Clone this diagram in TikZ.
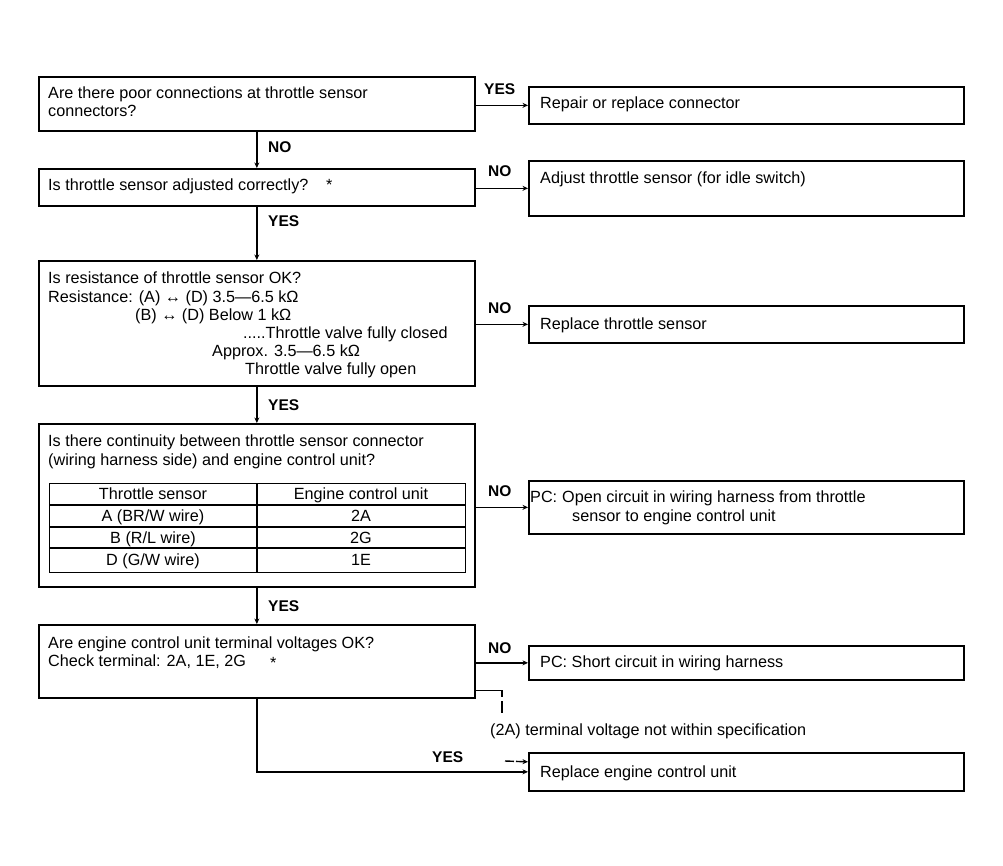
\documentclass[tikz,border=0pt]{standalone}
\usepackage{fontspec}
\setmainfont{Liberation Sans}
\usetikzlibrary{arrows.meta}
\begin{document}
\begin{tikzpicture}[x=1pt,y=-1pt,
  box/.style={draw,line width=1.7pt,inner sep=0pt,anchor=north west},
  txt/.style={anchor=base west,inner sep=0pt,font=\fontsize{16.2}{18}\selectfont},
  ctxt/.style={anchor=base,inner sep=0pt,font=\fontsize{16.2}{18}\selectfont},
  lbl/.style={anchor=base west,inner sep=0pt,font=\fontsize{15.5}{17}\selectfont\bfseries},
  conn/.style={line width=1.4pt,-{Stealth[length=5.5pt,width=5pt]}},
  plainline/.style={line width=1.3pt},
  tline/.style={line width=1.4pt}]
\useasboundingbox (0,0) rectangle (1003,866);

% question boxes
\node[box,minimum width=436pt,minimum height=54pt] (q1) at (38,76) {};
\node[box,minimum width=436pt,minimum height=37pt] (q2) at (38,168) {};
\node[box,minimum width=436pt,minimum height=125pt] (q3) at (38,260) {};
\node[box,minimum width=436pt,minimum height=163pt] (q4) at (38,423) {};
\node[box,minimum width=436pt,minimum height=73pt] (q5) at (38,624) {};

% answer boxes
\node[box,minimum width=435pt,minimum height=37pt] (a1) at (528,86) {};
\node[box,minimum width=435pt,minimum height=55pt] (a2) at (528,160) {};
\node[box,minimum width=435pt,minimum height=37pt] (a3) at (528,305) {};
\node[box,minimum width=435pt,minimum height=53pt] (a4) at (528,480) {};
\node[box,minimum width=435pt,minimum height=34pt] (a5) at (528,645) {};
\node[box,minimum width=435pt,minimum height=38pt] (a6) at (528,752) {};

% texts in question boxes
\node[txt] (q1t1) at (48,99) {Are there poor connections at throttle sensor};
\node[txt] (q1t2) at (48,117) {connectors?};
\node[txt] (q2t1) at (48,191) {Is throttle sensor adjusted correctly?};
\node[txt] (q2s) at (326,191) {*};
\node[txt] (q3t1) at (48,284) {Is resistance of throttle sensor OK?};
\node[txt] (q3t2) at (48,302) {Resistance: (A) ↔ (D) 3.5—6.5 kΩ};
\node[txt] (q3t4) at (135,320) {(B) ↔ (D) Below 1 kΩ};
\node[txt] (q3t5) at (243,338) {.....Throttle valve fully closed};
\node[txt] (q3t6) at (212,356) {Approx. 3.5—6.5 kΩ};
\node[txt] (q3t7) at (245,374) {Throttle valve fully open};
\node[txt] (q4t1) at (48,446) {Is there continuity between throttle sensor connector};
\node[txt] (q4t2) at (48,465) {(wiring harness side) and engine control unit?};
\node[txt] (q5t1) at (48,648) {Are engine control unit terminal voltages OK?};
\node[txt] (q5t2) at (48,666) {Check terminal: 2A, 1E, 2G};
\node[txt] (q5s) at (270,668) {*};

% table
\node[box,line width=1.4pt,minimum width=416pt,minimum height=89pt] (tbl) at (49,483) {};
\draw[tline] (257,483) -- (257,572);
\draw[tline] (49,505) -- (465,505);
\draw[tline] (49,527) -- (465,527);
\draw[tline] (49,548) -- (465,548);
\node[ctxt] (c11) at (153,499) {Throttle sensor};
\node[ctxt] (c12) at (361,499) {Engine control unit};
\node[ctxt] (c21) at (153,521) {A (BR/W wire)};
\node[ctxt] (c22) at (361,521) {2A};
\node[ctxt] (c31) at (153,543) {B (R/L wire)};
\node[ctxt] (c32) at (361,543) {2G};
\node[ctxt] (c41) at (153,565) {D (G/W wire)};
\node[ctxt] (c42) at (361,565) {1E};

% texts in answer boxes
\node[txt] (a1t) at (540,109) {Repair or replace connector};
\node[txt] (a2t) at (540,184) {Adjust throttle sensor (for idle switch)};
\node[txt] (a3t) at (540,329) {Replace throttle sensor};
\node[txt] (a4p) at (530,502) {PC:};
\node[txt] (a4t1) at (562,502) {Open circuit in wiring harness from throttle};
\node[txt] (a4t2) at (572,521) {sensor to engine control unit};
\node[txt] (a5t) at (540,667) {PC: Short circuit in wiring harness};
\node[txt] (a6t) at (540,777) {Replace engine control unit};

% vertical connectors
\draw[conn] (q1.south) -- (q2.north);
\draw[conn] (q2.south) -- (q3.north);
\draw[conn] (q3.south) -- (q4.north);
\draw[conn] (q4.south) -- (q5.north);
\draw[conn] (q5.south) |- (a6.west);

% horizontal connectors
\draw[conn] (q1.east |- a1.west) -- (a1.west);
\draw[conn] (q2.east |- a2.west) -- (a2.west);
\draw[conn] (q3.east |- a3.west) -- (a3.west);
\draw[conn] (q4.east |- a4.west) -- (a4.west);
\draw[conn] (q5.east |- a5.west) -- (a5.west);

% side branch (2A)
\coordinate (br) at (502,697);
\coordinate (brend) at (502,713);
\coordinate (sa) at (505,761);
\draw[plainline] ([yshift=8pt]q5.south east) -| (br);
\draw[plainline] ([yshift=-4pt]br) -- (brend);
\node[txt] (note) at (490,735) {(2A) terminal voltage not within specification};
\draw[conn,dash pattern=on 9pt off 2pt] (sa) -- ([yshift=10pt]a6.west);

% labels
\node[lbl] (l1) at (268,153) {NO};
\node[lbl] (l2) at (268,227) {YES};
\node[lbl] (l3) at (268,410) {YES};
\node[lbl] (l4) at (268,611) {YES};
\node[lbl] (l5) at (484,95) {YES};
\node[lbl] (l6) at (488,177) {NO};
\node[lbl] (l7) at (488,313) {NO};
\node[lbl] (l8) at (488,496) {NO};
\node[lbl] (l9) at (488,653) {NO};
\node[lbl] (l10) at (432,762) {YES};
\end{tikzpicture}
\end{document}
